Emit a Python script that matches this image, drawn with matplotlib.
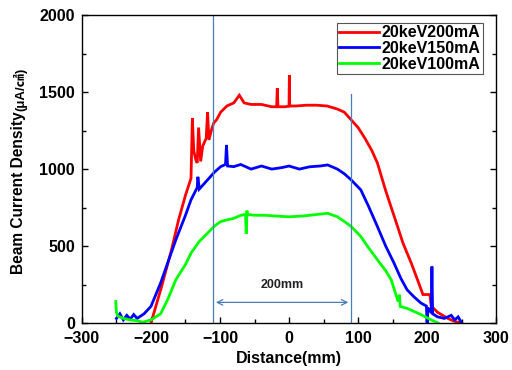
import matplotlib
matplotlib.use("Agg")
import matplotlib.pyplot as plt
from matplotlib.ticker import MultipleLocator

plt.rcParams["font.family"] = ["Liberation Sans", "Noto Sans CJK SC", "DejaVu Sans"]

# ── data ───────────────────────────────────────────────────────────────────
labels = ["20keV200mA", "20keV150mA", "20keV100mA"]
colors = ["#ff0000", "#0000ff", "#00ff00"]

x_200 = [-200, -185, -170, -160, -150, -142, -140, -138, -135, -133, -131, -128, -125,
         -120, -118, -116, -112, -109, -105, -99, -90, -80, -72, -65, -55, -40, -25,
         -18, -17, -16, -5, 0, 0.5, 1, 10, 25, 40, 55, 70, 80, 90, 100, 110, 120, 128,
         140, 157, 165, 177, 187, 194, 204, 206, 215, 230, 240, 250]
y_200 = [0, 230, 480, 670, 830, 940, 1330, 1120, 1060, 1040, 1270, 1050, 1150,
         1200, 1370, 1190, 1260, 1300, 1320, 1370, 1410, 1430, 1480, 1430, 1420, 1420, 1405,
         1405, 1525, 1405, 1405, 1410, 1610, 1410, 1410, 1415, 1415, 1410, 1390, 1370,
         1320, 1270, 1200, 1120, 1040, 860, 630, 520, 390, 270, 185, 185, 110, 70, 30, 10, 0]

x_150 = [-250, -245, -240, -235, -230, -225, -220, -215, -210, -200, -186, -175, -164,
         -150, -142, -133, -132, -130, -118, -108, -99, -92, -90.6, -89, -80, -70, -55,
         -40, -25, -10, 0, 15, 30, 45, 56, 70, 80, 90, 104, 115, 128, 140, 152, 162, 171,
         181, 191, 199, 200, 201, 206, 207, 208, 215, 225, 235, 240, 245, 250]
y_150 = [30, 60, 20, 50, 25, 55, 30, 45, 60, 108, 260, 400, 540,
         700, 800, 880, 950, 870, 930, 980, 1016, 1030, 1157, 1020, 1016, 1030, 1000,
         1020, 1000, 1010, 1020, 1000, 1015, 1020, 1027, 1000, 970, 930, 865, 760, 627, 500, 390, 290, 216,
         170, 130, 110, 0, 100, 65, 367, 60, 40, 30, 50, 20, 40, 0]

x_100 = [-251, -250, -248, -240, -230, -220, -212, -200, -186, -175, -164, -150, -142,
         -130, -118, -108, -99, -90, -80, -70, -63, -62, -61, -60, -59, -50, -35, -20,
         0, 20, 40, 56, 70, 80, 90, 104, 115, 128, 140, 148, 158, 160, 161, 171, 181,
         191, 206, 216]
y_100 = [140, 70, 45, 30, 20, 15, 5, 20, 60, 160, 281, 380, 454,
         530, 584, 630, 659, 670, 680, 700, 705, 580, 730, 700, 705, 700, 700, 695,
         690, 695, 705, 713, 690, 660, 627, 562, 490, 411, 340, 281, 140, 184, 108, 95, 75,
         55, 20, 0]

# 200 mm span between the two guide lines
span_left = -110
span_right = 90
span_label = "200mm"

fig = plt.figure(figsize=(5.12, 3.70), dpi=100)
ax = fig.add_axes([0.160, 0.127, 0.809, 0.832])

for xs, ys, lab, c in zip([x_200, x_150, x_100], [y_200, y_150, y_100], labels, colors):
    ax.plot(xs, ys, color=c, lw=2.0, label=lab, solid_joinstyle="miter")

guide = "#4a7ebb"
ax.plot([span_left, span_left], [0, 2000], color=guide, lw=0.9)
ax.plot([span_right, span_right], [0, 1490], color=guide, lw=0.9)
ax.annotate("", xy=(span_left, 134), xytext=(span_right, 134),
            arrowprops=dict(arrowstyle="<->", color=guide, lw=0.9))
ax.text((span_left + span_right) / 2, 250, span_label, ha="center", va="center",
        fontsize=9, fontweight="bold", color="#222222")

ax.set_xlim(-300, 300)
ax.set_ylim(0, 2000)
ax.xaxis.set_major_locator(MultipleLocator(100))
ax.xaxis.set_minor_locator(MultipleLocator(50))
ax.yaxis.set_major_locator(MultipleLocator(500))
ax.yaxis.set_minor_locator(MultipleLocator(250))
ax.tick_params(which="both", direction="in", top=False, right=True,
               labelsize=11.5, width=1.0)
ax.tick_params(which="major", length=4)
ax.tick_params(which="minor", length=3)
ax.tick_params(axis="x", pad=6)
ax.tick_params(axis="y", pad=5)
for t in ax.get_xticklabels() + ax.get_yticklabels():
    t.set_fontweight("bold")
for s in ax.spines.values():
    s.set_linewidth(1.0)

ax.set_xlabel("Distance(mm)", fontsize=11.5, fontweight="bold", labelpad=3)

# y label: main part plus smaller unit, stacked along the axis
fig.text(19 / 512, 1 - 274 / 370, "Beam Current Density", rotation=90,
         ha="center", va="bottom", fontsize=11.2, fontweight="bold")
fig.text(20 / 512, 1 - 111 / 370, "(μA/㎠)", rotation=90,
         ha="center", va="bottom", fontsize=9.5, fontweight="bold")

leg = ax.legend(loc="upper right", bbox_to_anchor=(0.968, 0.975),
                prop={"weight": "bold", "size": 11.5}, handlelength=2.5,
                handletextpad=0.15, borderpad=0.15, labelspacing=0.05,
                fancybox=False, framealpha=1, edgecolor="#555555", borderaxespad=0)
leg.get_frame().set_linewidth(0.8)

fig.savefig("out.png", dpi=100)
